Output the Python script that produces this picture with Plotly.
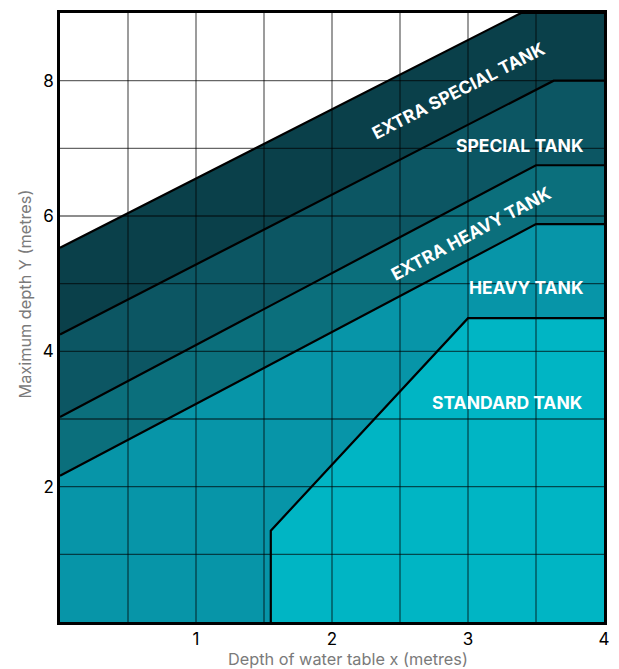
import plotly.graph_objects as go

# Boundary lines (x, y) for each tank zone (top edge of each zone)
extra_special_x = [0.0, 3.39, 4.0]
extra_special_y = [5.53, 9.0, 9.0]
special_x = [0.0, 3.63, 4.0]
special_y = [4.25, 8.0, 8.0]
extra_heavy_x = [0.0, 3.5, 4.0]
extra_heavy_y = [3.03, 6.75, 6.75]
heavy_x = [0.0, 3.5, 4.0]
heavy_y = [2.16, 5.88, 5.88]
standard_x = [1.55, 1.55, 3.0, 4.0]
standard_y = [0.0, 1.35, 4.49, 4.49]

zone_names = ["EXTRA SPECIAL TANK", "SPECIAL TANK", "EXTRA HEAVY TANK", "HEAVY TANK", "STANDARD TANK"]
zone_colors = ["#0a404a", "#0c5663", "#0b6f7c", "#0795a8", "#00b5c4"]
label_x = [2.93, 3.38, 3.02, 3.43, 3.29]
label_y = [7.85, 7.04, 5.74, 4.94, 3.24]
label_angle = [-27, 0, -28, 0, 0]

x_ticks = [1, 2, 3, 4]
y_ticks = [2, 4, 6, 8]
x_grid = [0.5, 1.0, 1.5, 2.0, 2.5, 3.0, 3.5]
y_grid = [1, 2, 3, 4, 5, 6, 7, 8]

zones = [(extra_special_x, extra_special_y), (special_x, special_y),
         (extra_heavy_x, extra_heavy_y), (heavy_x, heavy_y), (standard_x, standard_y)]

FONT = "Inter"

fig = go.Figure()
for (zx, zy), col in zip(zones, zone_colors):
    fig.add_trace(go.Scatter(x=zx, y=zy, mode="lines", fill="tozeroy",
                             fillcolor=col, line=dict(color="rgba(0,0,0,0)", width=0),
                             hoverinfo="skip", showlegend=False))

# grid lines drawn above the fills
gx, gy = [], []
for v in x_grid:
    gx += [v, v, None]
    gy += [0, 9, None]
for v in y_grid:
    gx += [0, 4, None]
    gy += [v, v, None]
fig.add_trace(go.Scatter(x=gx, y=gy, mode="lines",
                         line=dict(color="rgba(0,0,0,0.6)", width=1.3),
                         hoverinfo="skip", showlegend=False))

# boundary lines
for (zx, zy) in zones:
    fig.add_trace(go.Scatter(x=zx, y=zy, mode="lines",
                             line=dict(color="black", width=2.2),
                             hoverinfo="skip", showlegend=False))

for name, lx, ly, ang in zip(zone_names, label_x, label_y, label_angle):
    fig.add_annotation(x=lx, y=ly, text="<b>" + name + "</b>", showarrow=False,
                       textangle=ang, font=dict(family=FONT, size=17.5, color="white"),
                       xanchor="center", yanchor="middle")

fig.add_annotation(xref="paper", yref="paper", x=0.529, y=-0.060,
                   text="Depth of water table x (metres)", showarrow=False,
                   font=dict(family=FONT, size=16.3, color="#7a7a7a"),
                   xanchor="center", yanchor="middle")
fig.add_annotation(xref="paper", yref="paper", x=-0.064, y=0.538,
                   text="Maximum depth Y (metres)", showarrow=False, textangle=-90,
                   font=dict(family=FONT, size=16.3, color="#7a7a7a"),
                   xanchor="center", yanchor="middle")

fig.update_xaxes(range=[0, 4], tickvals=x_ticks, ticktext=[str(t) for t in x_ticks],
                 showgrid=False, zeroline=False, showline=True, linecolor="black",
                 linewidth=2.5, mirror=True, ticks="",
                 tickfont=dict(family=FONT, size=17, color="black"))
fig.update_yaxes(range=[0, 9], tickvals=y_ticks, ticktext=[str(t) for t in y_ticks],
                 showgrid=False, zeroline=False, showline=True, linecolor="black",
                 linewidth=2.5, mirror=True, ticks="",
                 tickfont=dict(family=FONT, size=17, color="black"))

fig.update_layout(width=611, height=661, margin=dict(l=52, r=15, t=2, b=47),
                  plot_bgcolor="white", paper_bgcolor="white", showlegend=False)

fig.write_html("out.html")
